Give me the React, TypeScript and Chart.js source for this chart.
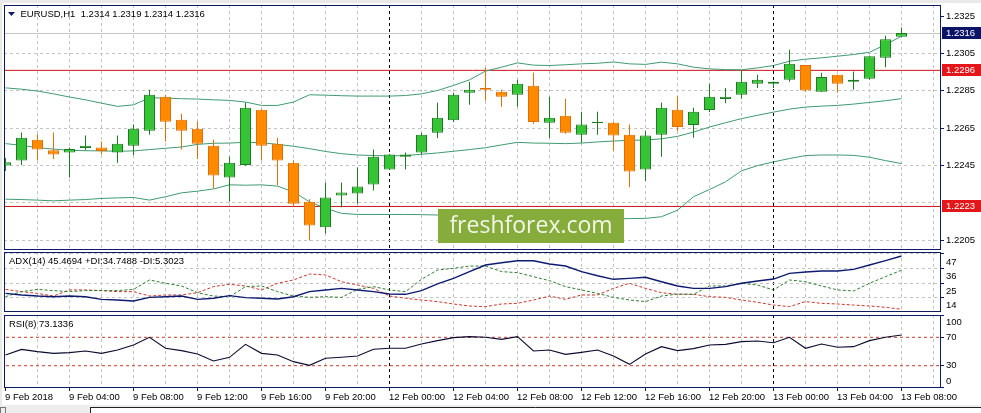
import React, { useEffect, useRef } from 'react';
import { Chart, registerables } from 'chart.js';
Chart.register(...registerables);

// ---------- data (EURUSD H1, 9 Feb 2018 00:00 .. 13 Feb 2018 08:00) ----------
const opens = [
  1.22449, 1.22476, 1.22588, 1.22531, 1.22519, 1.22544, 1.22546, 1.22519, 1.22556, 1.22636,
  1.22818, 1.22695, 1.22647, 1.22556, 1.22385, 1.22453, 1.22749, 1.22567, 1.22465, 1.22255,
  1.22118, 1.22289, 1.22299, 1.22348, 1.22428, 1.22496, 1.22519, 1.22626, 1.22692, 1.2284,
  1.22866, 1.22845, 1.22829, 1.22877, 1.22679, 1.22717, 1.22615, 1.22678, 1.22679, 1.22615,
  1.22428, 1.22615, 1.22749, 1.22667, 1.22747, 1.22806, 1.22829, 1.22888, 1.22888, 1.22909,
  1.22989, 1.22845, 1.22936, 1.22899, 1.22915, 1.23027, 1.2314,
];
const highs = [
  1.2249, 1.22627, 1.22617, 1.22627, 1.22546, 1.2261, 1.22578, 1.2261, 1.22669, 1.22856,
  1.22829, 1.22727, 1.22686, 1.22588, 1.22497, 1.22788, 1.22752, 1.22599, 1.22478, 1.22269,
  1.22358, 1.22358, 1.22439, 1.22535, 1.22512, 1.22519, 1.22626, 1.22786, 1.2284, 1.22898,
  1.22973, 1.22856, 1.22909, 1.22947, 1.22818, 1.22808, 1.22738, 1.22738, 1.22683, 1.22669,
  1.22636, 1.22788, 1.2282, 1.22759, 1.22888, 1.22866, 1.22959, 1.22936, 1.22902, 1.2307,
  1.22989, 1.22947, 1.22936, 1.22954, 1.23036, 1.23145, 1.2319,
];
const lows = [
  1.2242, 1.22453, 1.22476, 1.22485, 1.22385, 1.22531, 1.22508, 1.22465, 1.22506, 1.22615,
  1.22578, 1.22535, 1.22485, 1.22328, 1.22255, 1.22448, 1.22476, 1.22344, 1.22228, 1.22048,
  1.22085, 1.22226, 1.22244, 1.22316, 1.22425, 1.22428, 1.22508, 1.22597, 1.22683, 1.22775,
  1.22797, 1.22765, 1.22765, 1.22674, 1.22597, 1.2262, 1.22572, 1.22615, 1.22529, 1.22335,
  1.22367, 1.22496, 1.22635, 1.22599, 1.22736, 1.22784, 1.22808, 1.22866, 1.22866, 1.22899,
  1.22845, 1.22845, 1.2284, 1.22856, 1.22909, 1.22977, 1.2314,
];
const closes = [
  1.22467, 1.22599, 1.22535, 1.22508, 1.22538, 1.22556, 1.22528, 1.22567, 1.22647, 1.22829,
  1.22685, 1.22636, 1.22567, 1.22396, 1.22465, 1.22759, 1.22556, 1.22476, 1.22244, 1.22128,
  1.22278, 1.22305, 1.22337, 1.22497, 1.22508, 1.22508, 1.22615, 1.22706, 1.22829, 1.22856,
  1.22856, 1.22818, 1.22888, 1.22683, 1.22706, 1.22626, 1.22669, 1.22685, 1.2261, 1.22417,
  1.2261, 1.22759, 1.22656, 1.22738, 1.22818, 1.22818, 1.22899, 1.22909, 1.22899, 1.22995,
  1.22852, 1.22925, 1.22888, 1.22909, 1.23036, 1.23127, 1.2316,
];
const bbUpper = [
  1.22866, 1.22859, 1.22849, 1.22834, 1.22817, 1.22802, 1.22784, 1.22767, 1.22775, 1.22813,
  1.22811, 1.22808, 1.22806, 1.22802, 1.22799, 1.2279, 1.22772, 1.22772, 1.2279, 1.22829,
  1.22827, 1.22824, 1.22822, 1.22822, 1.22822, 1.22825, 1.22834, 1.22852, 1.22879, 1.22909,
  1.22956, 1.22977, 1.23, 1.22988, 1.22986, 1.2299, 1.22995, 1.22998, 1.23005, 1.22995,
  1.22992, 1.23004, 1.22995, 1.22977, 1.22968, 1.22964, 1.22963, 1.22973, 1.22986, 1.23009,
  1.2302, 1.23027, 1.23036, 1.23045, 1.23057, 1.23098, 1.23143,
];
const bbMiddle = [
  1.22567, 1.22558, 1.22545, 1.22538, 1.22531, 1.22529, 1.22528, 1.22526, 1.22528, 1.22535,
  1.22542, 1.22549, 1.22563, 1.22569, 1.2257, 1.22574, 1.22572, 1.22563, 1.22553, 1.2254,
  1.22525, 1.22513, 1.22506, 1.22503, 1.22501, 1.22503, 1.2251, 1.22517, 1.22526, 1.22535,
  1.22545, 1.2256, 1.22574, 1.2257, 1.22569, 1.22567, 1.2257, 1.22576, 1.22581, 1.22585,
  1.22586, 1.22593, 1.22606, 1.22629, 1.22656, 1.22679, 1.22701, 1.22719, 1.22736, 1.22752,
  1.22763, 1.22768, 1.22772, 1.22779, 1.22788, 1.22797, 1.22808,
];
const bbLower = [
  1.22269, 1.22267, 1.22264, 1.2226, 1.22264, 1.22267, 1.22273, 1.22276, 1.22278, 1.22264,
  1.22282, 1.22303, 1.22312, 1.22324, 1.22346, 1.22344, 1.22346, 1.22339, 1.22308, 1.22255,
  1.2222, 1.22193, 1.22187, 1.22187, 1.22187, 1.22187, 1.22186, 1.22184, 1.2218, 1.22176,
  1.22172, 1.22168, 1.22165, 1.22162, 1.2216, 1.2216, 1.2216, 1.22161, 1.22163, 1.22165,
  1.22166, 1.22175, 1.2221, 1.22282, 1.22321, 1.22362, 1.22421, 1.22449, 1.22469, 1.22487,
  1.22503, 1.22506, 1.22506, 1.22504, 1.22494, 1.22476, 1.2246,
];
const adxValues = [
  17.3, 16.1, 15.3, 14.8, 15.3, 14.8, 12.8, 12.3, 11.6, 14.3,
  14.8, 15.3, 12.8, 13.6, 15.6, 14.1, 13.6, 13.1, 14.8, 18.6,
  19.9, 21.1, 19.9, 18.6, 16.8, 16.6, 19.4, 24.4, 28.6, 33.7,
  38.7, 40.4, 41.9, 41.9, 39.4, 37.9, 33.7, 30.6, 27.9, 28.6,
  29.4, 26.1, 22.9, 21.1, 21.1, 22.4, 24.9, 26.6, 28.1, 32.4,
  33.4, 34.2, 34.2, 35.4, 38.7, 42.0, 45.47,
];
const plusDI = [
  14.8, 18.6, 20.3, 19.4, 18.6, 19.4, 19.4, 19.4, 20.3, 27.4,
  24.9, 22.9, 17.8, 15.3, 14.8, 22.4, 22.9, 18.6, 15.3, 14.3,
  14.8, 14.3, 20.3, 22.4, 19.9, 18.6, 27.9, 34.9, 36.2, 37.9,
  37.9, 33.7, 32.9, 29.9, 26.9, 22.4, 19.9, 17.3, 14.3, 12.3,
  11.1, 15.3, 16.8, 16.6, 22.9, 22.9, 24.9, 23.6, 19.9, 27.4,
  26.1, 22.9, 19.9, 19.1, 24.9, 29.9, 34.75,
];
const minusDI = [
  20.3, 18.6, 17.3, 15.3, 19.9, 19.9, 19.4, 18.6, 18.6, 15.3,
  16.1, 16.1, 17.8, 22.4, 24.1, 22.9, 19.9, 24.9, 27.4, 31.9,
  31.2, 26.1, 23.6, 21.1, 15.3, 13.6, 12.3, 11.1, 9.3, 7.8,
  7.3, 9.3, 9.8, 12.3, 15.3, 12.8, 16.1, 16.1, 21.1, 24.9,
  21.1, 17.8, 16.6, 16.6, 14.8, 14.3, 12.3, 10.6, 8.5, 7.3,
  11.1, 9.8, 9.3, 8.5, 7.8, 6.8, 5.3,
];
const rsiValues = [
  45.1, 53.0, 49.8, 47.4, 48.4, 50.7, 47.4, 52.1, 59.2, 70.0,
  54.5, 51.2, 46.5, 36.6, 41.8, 60.1, 47.4, 45.1, 35.7, 30.5,
  40.4, 41.8, 43.7, 53.1, 54.5, 54.5, 60.6, 65.3, 69.5, 70.9,
  70.0, 67.1, 70.9, 50.7, 52.1, 46.0, 48.8, 52.1, 43.7, 31.9,
  46.5, 56.8, 51.2, 54.0, 59.2, 60.1, 63.9, 64.8, 62.4, 70.0,
  54.5, 60.6, 55.9, 56.8, 65.3, 70.0, 73.13,
];
const timeLabels = [
  '9 Feb 2018', '9 Feb 04:00', '9 Feb 08:00', '9 Feb 12:00', '9 Feb 16:00', '9 Feb 20:00',
  '12 Feb 00:00', '12 Feb 04:00', '12 Feb 08:00', '12 Feb 12:00', '12 Feb 16:00', '12 Feb 20:00',
  '13 Feb 00:00', '13 Feb 04:00', '13 Feb 08:00',
];
const timeLabelStep = 4;
const daySeparators = [24, 48];
const priceTicks = [1.2325, 1.2305, 1.2285, 1.2265, 1.2245, 1.2205];
const priceGrid = [1.2305, 1.2285, 1.2265, 1.2245, 1.2225, 1.2205];
const bidPrice = 1.2316;
const levelPrices = [1.2296, 1.2223];
const adxTicks = [47, 36, 25, 14];
const rsiTicks = [100, 70, 30, 0];
const rsiLevels = [70, 30];
const mainTitle = 'EURUSD,H1  1.2314 1.2319 1.2314 1.2316';
const adxTitle = 'ADX(14) 45.4694 +DI:34.7488 -DI:5.3023';
const rsiTitle = 'RSI(8) 73.1336';
const watermark = 'freshforex.com';

// ---------- styling ----------
const X_MIN = -0.09375;
const X_MAX = 58.46875;
const FONT = '9.5px "Liberation Sans", Arial, sans-serif';
const BORDER = '#101c62';
const GRID = '#c4c4c4';
const BULL_FILL = '#35c435';
const BULL_LINE = '#1f7a22';
const BEAR_FILL = '#ff8a00';
const BEAR_LINE = '#e07000';
const BB_COLOR = '#3f9a72';
const LEVEL_RED = '#cc1414';

const idx = opens.map((_, i) => i);

function vGrid(chart: any) {
  const ctx = chart.ctx;
  const ca = chart.chartArea;
  const xs = chart.scales.x;
  ctx.save();
  ctx.lineWidth = 1;
  ctx.setLineDash([3, 3]);
  ctx.strokeStyle = GRID;
  for (let i = 2; i <= 58; i += 2) {
    if (daySeparators.includes(i)) continue;
    const x = Math.floor(xs.getPixelForValue(i)) + 0.5;
    ctx.beginPath();
    ctx.moveTo(x, ca.top);
    ctx.lineTo(x, ca.bottom);
    ctx.stroke();
  }
  ctx.strokeStyle = '#000';
  for (const d of daySeparators) {
    const x = Math.floor(xs.getPixelForValue(d)) + 0.5;
    ctx.beginPath();
    ctx.moveTo(x, ca.top);
    ctx.lineTo(x, ca.bottom);
    ctx.stroke();
  }
  ctx.restore();
}

function hGrid(chart: any, values: number[], color: string, dash: number[]) {
  const ctx = chart.ctx;
  const ca = chart.chartArea;
  const ys = chart.scales.y;
  ctx.save();
  ctx.lineWidth = 1;
  ctx.setLineDash(dash);
  ctx.strokeStyle = color;
  for (const v of values) {
    const y = Math.floor(ys.getPixelForValue(v)) + 0.5;
    ctx.beginPath();
    ctx.moveTo(ca.left, y);
    ctx.lineTo(ca.right, y);
    ctx.stroke();
  }
  ctx.restore();
}

function frame(chart: any) {
  const ctx = chart.ctx;
  const ca = chart.chartArea;
  ctx.save();
  ctx.setLineDash([]);
  ctx.lineWidth = 1;
  ctx.strokeStyle = BORDER;
  ctx.strokeRect(ca.left + 0.5, ca.top + 0.5, ca.right - ca.left - 1, ca.bottom - ca.top - 1);
  ctx.restore();
}

function title(chart: any, text: string, y: number, arrow: boolean) {
  const ctx = chart.ctx;
  ctx.save();
  ctx.font = FONT;
  ctx.fillStyle = '#000';
  ctx.textBaseline = 'middle';
  ctx.textAlign = 'left';
  if (arrow) {
    ctx.fillStyle = BORDER;
    ctx.beginPath();
    ctx.moveTo(8, y - 2);
    ctx.lineTo(15, y - 2);
    ctx.lineTo(11.5, y + 2);
    ctx.closePath();
    ctx.fill();
    ctx.fillStyle = '#000';
    ctx.fillText(text, 20.5, y);
  } else {
    ctx.fillText(text, 9, y);
  }
  ctx.restore();
}

function rightLabel(chart: any, text: string, y: number, tickY: number | null) {
  const ctx = chart.ctx;
  const ca = chart.chartArea;
  ctx.save();
  if (tickY !== null) {
    ctx.strokeStyle = BORDER;
    ctx.lineWidth = 1;
    ctx.beginPath();
    ctx.moveTo(ca.right, Math.floor(tickY) + 0.5);
    ctx.lineTo(ca.right + 3, Math.floor(tickY) + 0.5);
    ctx.stroke();
  }
  ctx.font = FONT;
  ctx.fillStyle = '#000';
  ctx.textBaseline = 'middle';
  ctx.textAlign = 'left';
  ctx.fillText(text, ca.right + 5, y);
  ctx.restore();
}

function priceBox(chart: any, v: number, bg: string) {
  const ctx = chart.ctx;
  const ca = chart.chartArea;
  const y = chart.scales.y.getPixelForValue(v);
  ctx.save();
  ctx.fillStyle = bg;
  ctx.fillRect(ca.right + 1, Math.round(y - 6), 40, 12);
  ctx.font = FONT;
  ctx.fillStyle = '#fff';
  ctx.textBaseline = 'middle';
  ctx.textAlign = 'left';
  ctx.fillText(v.toFixed(4), ca.right + 5, y);
  ctx.restore();
}

const baseOptions = (yMin: number, yMax: number, padding: any) => ({
  responsive: false,
  animation: false,
  events: [],
  layout: { padding },
  plugins: { legend: { display: false }, tooltip: { enabled: false } },
  scales: {
    x: { type: 'linear', min: X_MIN, max: X_MAX, display: false, offset: false },
    y: { type: 'linear', min: yMin, max: yMax, display: false },
  },
});

const lineSet = (values: number[], color: string, width: number, dash: number[], order: number) => ({
  type: 'line',
  data: values.map((v, i) => ({ x: i, y: v })),
  borderColor: color,
  borderWidth: width,
  borderDash: dash,
  pointRadius: 0,
  tension: 0,
  fill: false,
  order,
});

const levelSet = (v: number, color: string, dash: number[], order: number) => ({
  type: 'line',
  data: [{ x: X_MIN - 1, y: v }, { x: X_MAX + 1, y: v }],
  borderColor: color,
  borderWidth: 1,
  borderDash: dash,
  pointRadius: 0,
  fill: false,
  order,
});

export default function App() {
  const mainRef = useRef<HTMLCanvasElement>(null);
  const adxRef = useRef<HTMLCanvasElement>(null);
  const rsiRef = useRef<HTMLCanvasElement>(null);

  useEffect(() => {
    const charts: any[] = [];
    const bull = idx.map((i) => closes[i] >= opens[i]);

    const mainDeco = {
      id: 'mainDeco',
      beforeDraw(chart: any) {
        const ctx = chart.ctx;
        ctx.save();
        ctx.fillStyle = '#e9e9e9';
        ctx.fillRect(0, 0, chart.width, 3);
        ctx.fillRect(0, 0, 2, chart.height);
        ctx.restore();
      },
      beforeDatasetsDraw(chart: any) {
        vGrid(chart);
        hGrid(chart, priceGrid, GRID, [3, 3]);
        hGrid(chart, [bidPrice], '#c8c8c8', []);
      },
      afterDatasetsDraw(chart: any) {
        const ctx = chart.ctx;
        ctx.save();
        ctx.fillStyle = '#86ac3c';
        ctx.fillRect(438, 209, 186, 34);
        ctx.font = '23px "Open Sans", sans-serif';
        ctx.fillStyle = '#f3f6e8';
        ctx.textAlign = 'center';
        ctx.textBaseline = 'middle';
        ctx.fillText(watermark, 531, 226);
        ctx.restore();
        frame(chart);
        const ys = chart.scales.y;
        for (const t of priceTicks) {
          const y = ys.getPixelForValue(t);
          rightLabel(chart, t.toFixed(4), y, y);
        }
        priceBox(chart, bidPrice, '#0b1466');
        for (const lv of levelPrices) priceBox(chart, lv, '#e4161a');
        title(chart, mainTitle, 14, true);
      },
    };

    const main = new Chart(mainRef.current as any, {
      type: 'bar',
      data: {
        datasets: [
          {
            type: 'bar',
            data: idx.map((i) => ({ x: i, y: [opens[i], closes[i]] })),
            backgroundColor: bull.map((b) => (b ? BULL_FILL : BEAR_FILL)),
            borderColor: bull.map((b) => (b ? BULL_LINE : BEAR_LINE)),
            borderWidth: 1,
            borderSkipped: false,
            barThickness: 11,
            grouped: false,
            inflateAmount: 0,
            order: 1,
          },
          {
            type: 'bar',
            data: idx.map((i) => ({ x: i, y: [lows[i], highs[i]] })),
            backgroundColor: bull.map((b) => (b ? BULL_LINE : BEAR_LINE)),
            borderWidth: 0,
            barThickness: 1,
            grouped: false,
            inflateAmount: 0,
            order: 2,
          },
          lineSet(bbUpper, BB_COLOR, 1, [], 3),
          lineSet(bbMiddle, BB_COLOR, 1, [], 3),
          lineSet(bbLower, BB_COLOR, 1, [], 3),
          ...levelPrices.map((v) => levelSet(v, LEVEL_RED, [], 4)),
        ] as any,
      },
      options: baseOptions(1.219964, 1.233106, { left: 4, right: 40, top: 5, bottom: 1 }) as any,
      plugins: [mainDeco],
    });
    charts.push(main);

    const adxDeco = {
      id: 'adxDeco',
      beforeDraw(chart: any) {
        const ctx = chart.ctx;
        ctx.save();
        ctx.fillStyle = '#e9e9e9';
        ctx.fillRect(0, 0, 2, chart.height);
        ctx.restore();
      },
      beforeDatasetsDraw(chart: any) {
        vGrid(chart);
        hGrid(chart, adxTicks, GRID, [3, 3]);
      },
      afterDatasetsDraw(chart: any) {
        frame(chart);
        const ys = chart.scales.y;
        for (const t of adxTicks) {
          const y = ys.getPixelForValue(t);
          rightLabel(chart, String(t), Math.max(y + 8, chart.chartArea.top + 8), y);
        }
        title(chart, adxTitle, 10.7, false);
      },
    };

    const adx = new Chart(adxRef.current as any, {
      type: 'line',
      data: {
        datasets: [
          lineSet(adxValues, '#0d1a70', 1.4, [], 1),
          lineSet(plusDI, '#2f7d2f', 1, [3, 2], 2),
          lineSet(minusDI, '#c8372d', 1, [3, 2], 3),
        ] as any,
      },
      options: baseOptions(3.27, 48.48, { left: 4, right: 40, top: 1, bottom: 2 }) as any,
      plugins: [adxDeco],
    });
    charts.push(adx);

    const rsiDeco = {
      id: 'rsiDeco',
      beforeDraw(chart: any) {
        const ctx = chart.ctx;
        ctx.save();
        ctx.fillStyle = '#e9e9e9';
        ctx.fillRect(0, 0, 2, chart.height);
        // bottom window strip
        ctx.fillStyle = '#ededed';
        ctx.fillRect(0, 91, chart.width, chart.height - 91);
        ctx.fillStyle = '#ffffff';
        ctx.fillRect(90, 94, chart.width - 90, chart.height - 94);
        ctx.strokeStyle = '#222';
        ctx.lineWidth = 1;
        ctx.beginPath();
        ctx.moveTo(90, 93.5);
        ctx.lineTo(chart.width, 93.5);
        ctx.moveTo(90.5, 93.5);
        ctx.lineTo(90.5, chart.height);
        ctx.stroke();
        ctx.strokeStyle = '#777';
        ctx.strokeRect(0.5, 93.5, 5, 8);
        ctx.restore();
      },
      beforeDatasetsDraw(chart: any) {
        vGrid(chart);
      },
      afterDatasetsDraw(chart: any) {
        frame(chart);
        const ca = chart.chartArea;
        const ys = chart.scales.y;
        for (const t of rsiTicks) {
          const y = ys.getPixelForValue(t);
          const ly = Math.min(Math.max(y, ca.top + 7.5), ca.bottom - 7);
          rightLabel(chart, String(t), ly, y);
        }
        title(chart, rsiTitle, 10, false);
        // time axis labels
        const ctx = chart.ctx;
        const xs = chart.scales.x;
        ctx.save();
        ctx.strokeStyle = BORDER;
        ctx.lineWidth = 1;
        ctx.font = FONT;
        ctx.fillStyle = '#000';
        ctx.textAlign = 'left';
        ctx.textBaseline = 'middle';
        timeLabels.forEach((lab, k) => {
          const x = Math.floor(xs.getPixelForValue(k * timeLabelStep)) + 0.5;
          ctx.beginPath();
          ctx.moveTo(x, ca.bottom);
          ctx.lineTo(x, ca.bottom + 3);
          ctx.stroke();
          ctx.fillText(lab, x - 0.5, ca.bottom + 9.5);
        });
        ctx.restore();
      },
    };

    const rsi = new Chart(rsiRef.current as any, {
      type: 'line',
      data: {
        datasets: [
          lineSet(rsiValues, '#0b0b30', 1.1, [], 1),
          ...rsiLevels.map((v) => levelSet(v, '#c63b30', [3, 3], 2)),
        ] as any,
      },
      options: baseOptions(-1.4, 101.4, { left: 4, right: 40, top: 1, bottom: 25 }) as any,
      plugins: [rsiDeco],
    });
    charts.push(rsi);

    return () => charts.forEach((c) => c.destroy());
  }, []);

  return (
    <div
      style={{
        position: 'fixed',
        left: 0,
        top: 0,
        width: 981,
        height: 413,
        background: '#ffffff',
        overflow: 'hidden',
      }}
    >
      <canvas ref={mainRef} width={981} height={251} style={{ position: 'absolute', left: 0, top: 0 }} />
      <canvas ref={adxRef} width={981} height={63} style={{ position: 'absolute', left: 0, top: 251 }} />
      <canvas ref={rsiRef} width={981} height={99} style={{ position: 'absolute', left: 0, top: 314 }} />
    </div>
  );
}
